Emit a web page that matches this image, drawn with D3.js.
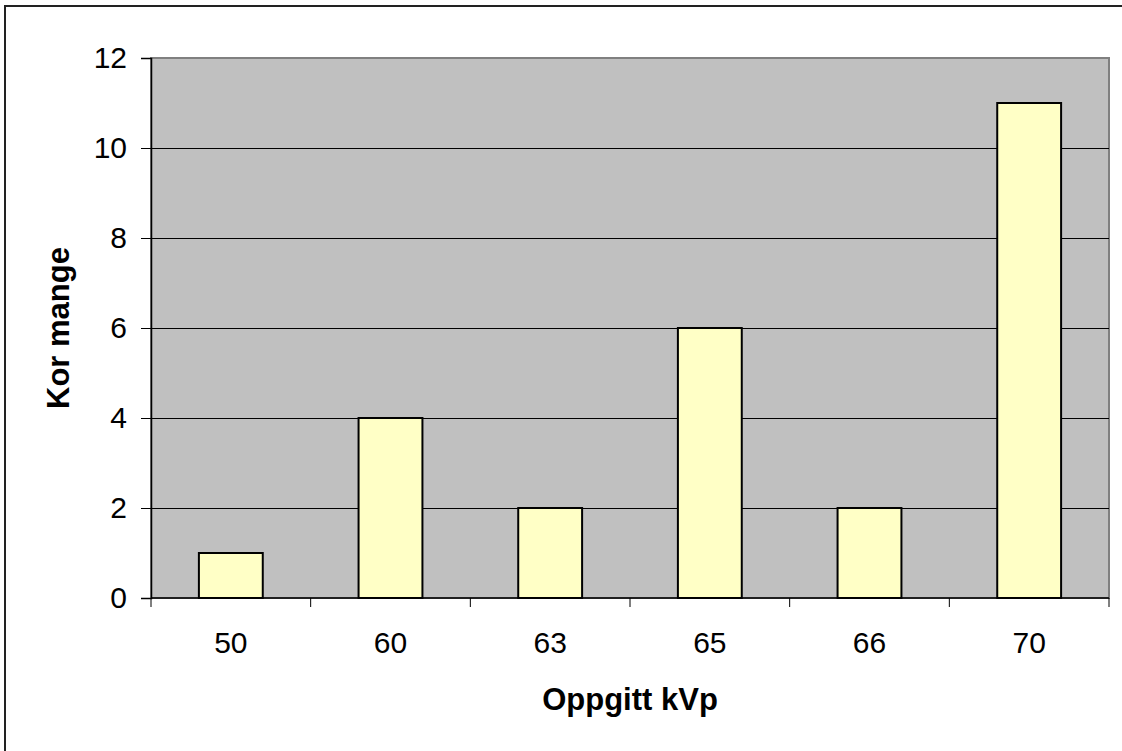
<!DOCTYPE html>
<html>
<head>
<meta charset="utf-8">
<script src="https://cdn.jsdelivr.net/npm/d3@7"></script>
<style>
  html, body { margin: 0; padding: 0; background: #fff; }
  svg { display: block; font-family: "Liberation Sans", Arial, sans-serif; }
</style>
</head>
<body>
<svg id="chart" width="1122" height="751"></svg>
<script>
// kVp settings and how many units reported each
const categories = ["50", "60", "63", "65", "66", "70"];
const counts = [1, 4, 2, 6, 2, 11];
const yTicks = [0, 2, 4, 6, 8, 10, 12];
const xTitle = "Oppgitt kVp";
const yTitle = "Kor mange";

const svg = d3.select("#chart");
const W = 1122, H = 751;
const plot = { left: 151, right: 1109, top: 58, bottom: 598 };

// chart-area frame (extends past the right and bottom edges)
svg.append("rect")
  .attr("x", 5).attr("y", 6)
  .attr("width", W + 10).attr("height", H + 10)
  .attr("fill", "#fff").attr("stroke", "#222").attr("stroke-width", 2);

const x = d3.scaleBand().domain(categories).range([plot.left, plot.right]).padding(0);
const y = d3.scaleLinear().domain([0, 12]).range([plot.bottom, plot.top]);

// plot background
svg.append("rect")
  .attr("x", plot.left).attr("y", plot.top)
  .attr("width", plot.right - plot.left).attr("height", plot.bottom - plot.top)
  .attr("fill", "#c0c0c0").attr("stroke", "#808080").attr("stroke-width", 2);

// horizontal gridlines
svg.append("g").selectAll("line")
  .data(yTicks.filter(d => d > 0 && d < 12))
  .join("line")
  .attr("x1", plot.left).attr("x2", plot.right)
  .attr("y1", d => Math.round(y(d)) + 0.5).attr("y2", d => Math.round(y(d)) + 0.5)
  .attr("stroke", "#000").attr("stroke-width", 1);

// bars
const barW = x.bandwidth() / 2.5;
svg.append("g").selectAll("rect")
  .data(categories.map((c, i) => ({ c, v: counts[i] })))
  .join("rect")
  .attr("x", d => x(d.c) + (x.bandwidth() - barW) / 2)
  .attr("y", d => y(d.v))
  .attr("width", barW)
  .attr("height", d => y(0) - y(d.v))
  .attr("fill", "#ffffc6").attr("stroke", "#000").attr("stroke-width", 2);

// y axis
const yAxis = d3.axisLeft(y).tickValues(yTicks).tickSize(10).tickPadding(14)
  .tickFormat(d3.format("d"));
const gy = svg.append("g").attr("transform", `translate(${plot.left},0)`).call(yAxis);
gy.select(".domain").attr("stroke", "#000").attr("stroke-width", 1.5);
gy.selectAll(".tick line").attr("stroke", "#000");
gy.selectAll("text").attr("font-size", 30).attr("fill", "#000")
  .attr("font-family", "Liberation Sans, Arial, sans-serif");

// x axis: ticks sit on the category boundaries
const gx = svg.append("g").attr("transform", `translate(0,${plot.bottom})`);
gx.append("line")
  .attr("x1", plot.left).attr("x2", plot.right)
  .attr("y1", 0).attr("y2", 0)
  .attr("stroke", "#000").attr("stroke-width", 1.5);
const bounds = categories.map(c => x(c)).concat([plot.right]);
gx.selectAll("line.tick").data(bounds).join("line").attr("class", "tick")
  .attr("x1", d => d).attr("x2", d => d).attr("y1", 0).attr("y2", 9)
  .attr("stroke", "#000");
gx.selectAll("text").data(categories).join("text")
  .attr("x", d => x(d) + x.bandwidth() / 2)
  .attr("y", 55)
  .attr("text-anchor", "middle")
  .attr("font-size", 30).attr("fill", "#000")
  .text(d => d);

// axis titles
svg.append("text")
  .attr("x", (plot.left + plot.right) / 2).attr("y", 710)
  .attr("text-anchor", "middle")
  .attr("font-size", 31).attr("font-weight", "bold")
  .text(xTitle);

svg.append("text")
  .attr("transform", `translate(69,${(plot.top + plot.bottom) / 2}) rotate(-90)`)
  .attr("text-anchor", "middle")
  .attr("font-size", 31).attr("font-weight", "bold")
  .text(yTitle);
</script>
</body>
</html>
